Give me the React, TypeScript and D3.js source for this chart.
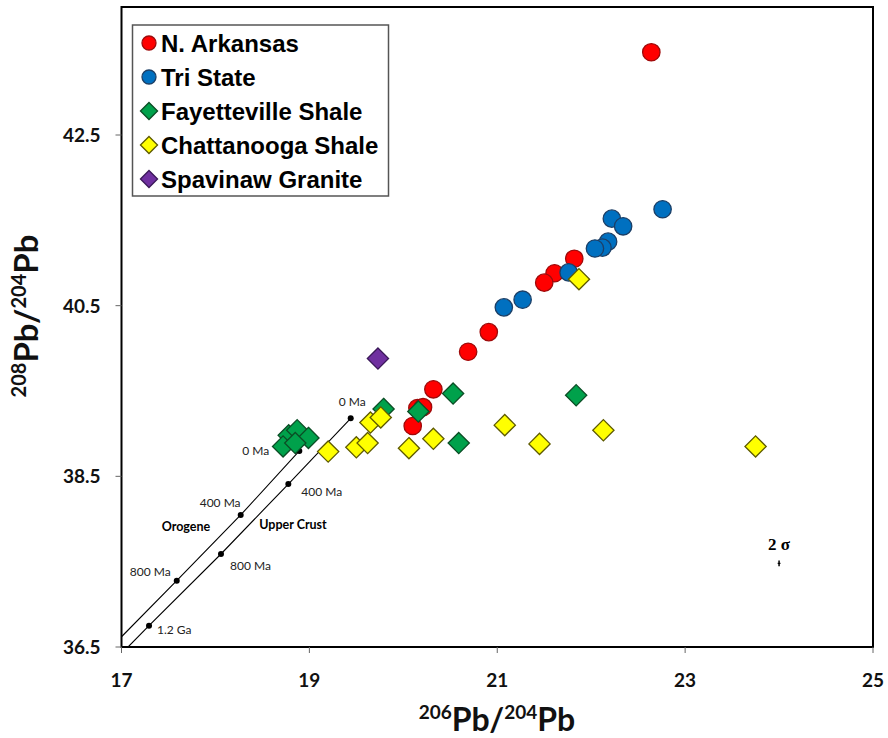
import React from "react";
import * as d3 from "d3";

// ---- data ----
const xTicks = [17, 19, 21, 23, 25];
const yTicks = [36.5, 38.5, 40.5, 42.5];

const nArkansasX = [22.64, 21.82, 21.61, 21.50, 20.91, 20.69, 20.32, 20.15, 20.21, 20.10];
const nArkansasY = [43.47, 41.05, 40.88, 40.77, 40.19, 39.96, 39.52, 39.30, 39.31, 39.09];

const triStateX = [22.76, 22.22, 22.34, 22.18, 22.12, 22.04, 21.76, 21.27, 21.07];
const triStateY = [41.63, 41.52, 41.43, 41.25, 41.18, 41.17, 40.89, 40.57, 40.48];

const fayettevilleX = [20.53, 20.59, 20.16, 19.79, 21.84, 18.78, 18.87, 18.99, 18.72, 18.85];
const fayettevilleY = [39.47, 38.89, 39.26, 39.29, 39.45, 38.98, 39.04, 38.95, 38.85, 38.89];

const chattanoogaX = [21.87, 19.65, 19.76, 19.20, 19.50, 19.62, 20.06, 20.32, 21.08, 21.45, 22.13, 23.75];
const chattanoogaY = [40.81, 39.13, 39.19, 38.79, 38.84, 38.89, 38.83, 38.94, 39.10, 38.88, 39.04, 38.85];

const spavinawX = [19.73];
const spavinawY = [39.88];

// growth curves (Zartman & Doe style)
const orogeneX = [17.0, 17.588, 18.269, 18.893];
const orogeneY = [36.62, 37.277, 38.047, 38.797];
const orogeneAgeX = [17.588, 18.269, 18.893];
const orogeneAgeY = [37.277, 38.047, 38.797];
const orogeneAges = ["800 Ma", "400 Ma", "0 Ma"];

const crustX = [17.07, 17.293, 18.059, 18.776, 19.44];
const crustY = [36.5, 36.75, 37.59, 38.41, 39.18];
const crustAgeX = [17.293, 18.059, 18.776, 19.44];
const crustAgeY = [36.75, 37.59, 38.41, 39.18];
const crustAges = ["1.2 Ga", "800 Ma", "400 Ma", "0 Ma"];

const sigmaX = 24.0;
const sigmaY = 37.48;
const sigmaErrX = 0.015;
const sigmaErrY = 0.035;

const seriesNames = ["N. Arkansas", "Tri State", "Fayetteville Shale", "Chattanooga Shale", "Spavinaw Granite"];

// ---- styles ----
const W = 888, H = 738;
const M = { left: 121.5, right: 873, top: 7, bottom: 647 };
const tickFont = "Lato, 'Open Sans', sans-serif";

type Style = { shape: "circle" | "diamond"; fill: string; stroke: string };
const styles: Style[] = [
  { shape: "circle", fill: "#FF0000", stroke: "#9E0A0A" },
  { shape: "circle", fill: "#0070C0", stroke: "#1C3F66" },
  { shape: "diamond", fill: "#00A14B", stroke: "#0B4D25" },
  { shape: "diamond", fill: "#FFFF00", stroke: "#5E5A00" },
  { shape: "diamond", fill: "#7030A0", stroke: "#3A1858" },
];

const seriesData: [number[], number[]][] = [
  [nArkansasX, nArkansasY],
  [triStateX, triStateY],
  [fayettevilleX, fayettevilleY],
  [chattanoogaX, chattanoogaY],
  [spavinawX, spavinawY],
];

function Marker({ x, y, s, size }: { x: number; y: number; s: Style; size: number }) {
  if (s.shape === "circle") {
    return <circle cx={x} cy={y} r={size} fill={s.fill} stroke={s.stroke} strokeWidth={1.3} />;
  }
  const d = size * 1.22;
  return (
    <path
      d={`M${x},${y - d}L${x + d},${y}L${x},${y + d}L${x - d},${y}Z`}
      fill={s.fill}
      stroke={s.stroke}
      strokeWidth={1.3}
    />
  );
}

export default function App() {
  const x = d3.scaleLinear().domain([17, 25]).range([M.left, M.right]);
  const y = d3.scaleLinear().domain([36.5, 44]).range([M.bottom, M.top]);
  const line = d3
    .line<[number, number]>()
    .x((d) => x(d[0]))
    .y((d) => y(d[1]));

  const oroPts = orogeneX.map((v, i) => [v, orogeneY[i]] as [number, number]);
  const crustPts = crustX.map((v, i) => [v, crustY[i]] as [number, number]);

  const oroLabelOffsets = [
    { dx: -47, dy: -5 },
    { dx: -41, dy: -8 },
    { dx: -57, dy: 4 },
  ];
  const crustLabelOffsets = [
    { dx: 8, dy: 8 },
    { dx: 9, dy: 16 },
    { dx: 13, dy: 12 },
    { dx: -12, dy: -12 },
  ];

  return (
    <svg width={W} height={H} style={{ display: "block", position: "absolute", left: 0, top: 0 }}>
      <rect x={0} y={0} width={W} height={H} fill="#fff" />
      <defs>
        <clipPath id="plotClip">
          <rect x={M.left} y={M.top} width={M.right - M.left} height={M.bottom - M.top} />
        </clipPath>
      </defs>

      {/* growth curves */}
      <g clipPath="url(#plotClip)">
        <path d={line(oroPts) || ""} fill="none" stroke="#000" strokeWidth={1.1} />
        <path d={line(crustPts) || ""} fill="none" stroke="#000" strokeWidth={1.1} />
      </g>
      {orogeneAgeX.map((v, i) => (
        <g key={"oa" + i}>
          <circle cx={x(v)} cy={y(orogeneAgeY[i])} r={3} fill="#000" />
          <text
            x={x(v) + oroLabelOffsets[i].dx}
            y={y(orogeneAgeY[i]) + oroLabelOffsets[i].dy}
            fontFamily={tickFont}
            fontSize={12}
            fill="#222"
          >
            {orogeneAges[i]}
          </text>
        </g>
      ))}
      {crustAgeX.map((v, i) => (
        <g key={"ca" + i}>
          <circle cx={x(v)} cy={y(crustAgeY[i])} r={3} fill="#000" />
          <text
            x={x(v) + crustLabelOffsets[i].dx}
            y={y(crustAgeY[i]) + crustLabelOffsets[i].dy}
            fontFamily={tickFont}
            fontSize={12}
            fill="#222"
          >
            {crustAges[i]}
          </text>
        </g>
      ))}
      <text x={186} y={531} textAnchor="middle" fontFamily={tickFont} fontWeight="bold" fontSize={12.5}>
        Orogene
      </text>
      <text x={293} y={529} textAnchor="middle" fontFamily={tickFont} fontWeight="bold" fontSize={12.5}>
        Upper Crust
      </text>

      {/* data series */}
      {seriesData.map(([xs, ys], si) => (
        <g key={"s" + si}>
          {xs.map((v, i) => (
            <Marker key={i} x={x(v)} y={y(ys[i])} s={styles[si]} size={8.7} />
          ))}
        </g>
      ))}

      {/* 2 sigma */}
      <text
        x={x(sigmaX)}
        y={y(sigmaY) - 13}
        textAnchor="middle"
        fontFamily="'Liberation Serif', 'DejaVu Serif', serif"
        fontWeight="bold"
        fontSize={17}
      >
        2 σ
      </text>
      <line x1={x(sigmaX - sigmaErrX)} x2={x(sigmaX + sigmaErrX)} y1={y(sigmaY)} y2={y(sigmaY)} stroke="#000" strokeWidth={1.2} />
      <line x1={x(sigmaX)} x2={x(sigmaX)} y1={y(sigmaY - sigmaErrY)} y2={y(sigmaY + sigmaErrY)} stroke="#000" strokeWidth={1.5} />

      {/* frame */}
      <rect
        x={M.left}
        y={M.top}
        width={M.right - M.left}
        height={M.bottom - M.top}
        fill="none"
        stroke="#000"
        strokeWidth={2}
      />

      {/* axes ticks */}
      {xTicks.map((t) => (
        <g key={"xt" + t}>
          <line x1={x(t)} x2={x(t)} y1={M.bottom} y2={M.bottom + 6} stroke="#666" strokeWidth={1} />
          <text
            x={x(t)}
            y={M.bottom + 40}
            textAnchor="middle"
            fontFamily={tickFont}
            fontWeight="bold"
            fontSize={19}
            fill="#111"
          >
            {t}
          </text>
        </g>
      ))}
      {yTicks.map((t) => (
        <g key={"yt" + t}>
          <line x1={M.left - 6} x2={M.left} y1={y(t)} y2={y(t)} stroke="#666" strokeWidth={1} />
          <text
            x={M.left - 21}
            y={y(t) + 7}
            textAnchor="end"
            fontFamily={tickFont}
            fontWeight="bold"
            fontSize={19}
            fill="#111"
          >
            {t.toFixed(1)}
          </text>
        </g>
      ))}

      {/* axis titles */}
      <text
        x={497}
        y={731}
        textAnchor="middle"
        fontFamily={tickFont}
        fontWeight="bold"
        fontSize={32}
        fill="#111"
      >
        <tspan fontSize={19} dy={-12}>206</tspan>
        <tspan dy={12}>Pb/</tspan>
        <tspan fontSize={19} dy={-12}>204</tspan>
        <tspan dy={12}>Pb</tspan>
      </text>
      <text
        transform={`translate(38, 316) rotate(-90)`}
        textAnchor="middle"
        fontFamily={tickFont}
        fontWeight="bold"
        fontSize={33}
        fill="#111"
      >
        <tspan fontSize={20} dy={-12}>208</tspan>
        <tspan dy={12}>Pb/</tspan>
        <tspan fontSize={20} dy={-12}>204</tspan>
        <tspan dy={12}>Pb</tspan>
      </text>

      {/* legend */}
      <rect x={132.5} y={25} width={256} height={171} fill="#fff" stroke="#555" strokeWidth={1.5} />
      {seriesNames.map((n, i) => (
        <g key={"lg" + i}>
          <Marker x={149} y={43 + i * 34} s={styles[i]} size={7} />
          <text
            x={161}
            y={43 + i * 34 + 8.5}
            fontFamily="'Liberation Sans', Arial, sans-serif"
            fontWeight="bold"
            fontSize={24}
            fill="#000"
          >
            {n}
          </text>
        </g>
      ))}
    </svg>
  );
}
